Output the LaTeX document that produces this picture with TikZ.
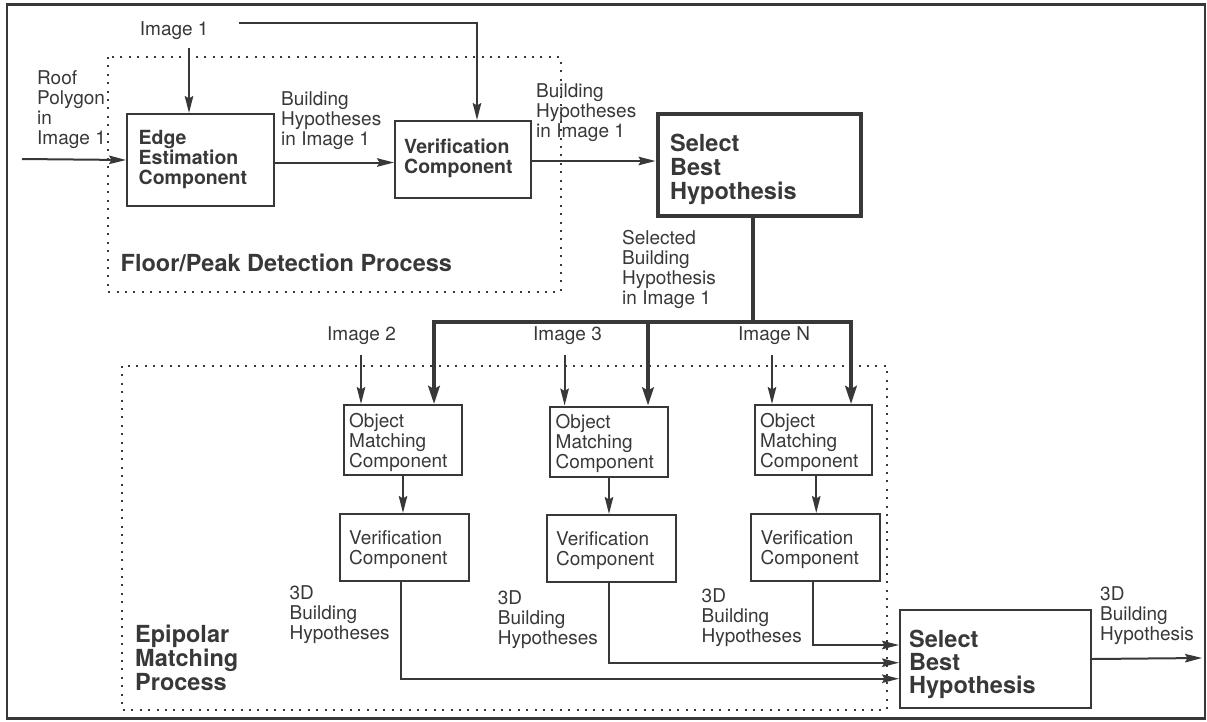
\documentclass[tikz,border=0pt]{standalone}
\usepackage{fontspec}
\setmainfont{TeX Gyre Heros}
\usetikzlibrary{arrows.meta}
\definecolor{ink}{gray}{0.22}
\tikzset{
  dims/.style 2 args={minimum width=#1pt, minimum height=#2pt},
  box/.style={draw=ink, line width=2pt, inner sep=0pt, anchor=north west},
  heavybox/.style={box, line width=4.2pt},
  txt/.style={inner sep=0pt, anchor=north west, align=left, text=ink,
    font=\fontsize{19}{20}\selectfont},
  btxt/.style={txt, font=\fontsize{19.5}{20}\selectfont\bfseries},
  bigtxt/.style={txt, font=\fontsize{23.5}{24}\selectfont\bfseries},
  arr/.style={draw=ink, line width=2pt, -{Stealth[length=17pt,width=8.5pt,inset=2.5pt]}},
  tarr/.style={draw=ink, line width=4pt, line join=miter, -{Stealth[length=18pt,width=11.5pt,inset=3pt]}},
  thickl/.style={draw=ink, line width=4pt},
  dotbox/.style={draw=ink, line width=2pt, dash pattern=on 2pt off 6.4pt},
  frame/.style={draw=ink, line width=2.2pt}
}
\begin{document}
\begin{tikzpicture}[x=1pt,y=-1pt]
\useasboundingbox (0,0) rectangle (1207,721);

% outer frame and the two process regions
\draw[frame] (7,4.5) rectangle (1205,718.5);
\draw[dotbox] (108,57) rectangle (560.6,292);
\draw[dotbox] (122,366) rectangle (887,709.5);

% ---------- floor/peak detection ----------
\node[box, dims={147}{92}] (edge) at (126,113) {};
\node[btxt] (edge-t) at (138.5,129.8) {Edge\\Estimation\\Component};
\node[box, dims={136}{77}] (verif) at (394,120) {};
\node[btxt] (verif-t) at (404,138.3) {Verification\\Component};
\node[heavybox, dims={203}{102}] (sel1) at (655.5,112) {};
\node[bigtxt] (sel1-t) at (670,133.6) {Select\\Best\\Hypothesis};

\node[txt] (roof) at (37,70.5) {Roof\\Polygon\\in\\Image 1};
\node[txt] (img1) at (139.7,21.3) {Image 1};
\node[txt] (bh1) at (281,91.7) {Building\\Hypotheses\\in Image 1};
\node[txt] (bh2) at (536,83) {Building\\Hypotheses\\in Image 1};
\node[bigtxt] (floor) at (120.5,254) {Floor/Peak Detection Process};
\node[txt] (selhyp) at (622,230.3) {Selected\\Building\\Hypothesis\\in Image 1};

\coordinate (roofin) at (22,159);
\draw[arr] (roofin) -- (edge.west);
\coordinate (img1a) at (189,48);
\draw[arr] (img1a) -- (img1a |- edge.north);
\coordinate (img1b) at (239,22.5);
\coordinate (img1c) at (477,22.5);
\draw[arr] (img1b) -- (img1c) -- (img1c |- verif.north);
\coordinate (ev) at ([yshift=-2.5pt]edge.east);
\draw[arr] (ev) -- (ev -| verif.west);
\coordinate (vs) at ([yshift=-1.5pt]verif.east);
\draw[arr] (vs) -- (vs -| sel1.west);

% ---------- distribution to the other images ----------
\coordinate (trunk) at ([xshift=-6pt]sel1.south);
\coordinate (busL) at (434,321.7);
\coordinate (busM) at (648,321.7);
\coordinate (busR) at (851,321.7);

% ---------- epipolar matching ----------
\node[box, dims={118}{70}] (ob1) at (343,404) {};
\node[box, dims={118}{70}] (ob2) at (549,405.5) {};
\node[box, dims={117.5}{70}] (ob3) at (753.5,404) {};
\node[txt] (ob1-t) at (349,413) {Object\\Matching\\Component};
\node[txt] (ob2-t) at (555.5,414) {Object\\Matching\\Component};
\node[txt] (ob3-t) at (760,413) {Object\\Matching\\Component};

\node[box, dims={129.5}{66.5}] (vb1) at (338.5,513) {};
\node[box, dims={129.5}{66.5}] (vb2) at (545.5,514) {};
\node[box, dims={128.5}{66.5}] (vb3) at (750,513) {};
\node[txt] (vb1-t) at (349,530) {Verification\\Component};
\node[txt] (vb2-t) at (556,531) {Verification\\Component};
\node[txt] (vb3-t) at (760.4,530) {Verification\\Component};

\node[txt] (img2) at (327,326.3) {Image 2};
\node[txt] (img3) at (533,326.3) {Image 3};
\node[txt] (imgN) at (738,326.3) {Image N};

\node[txt] (h3d1) at (289.4,585) {3D\\Building\\Hypotheses};
\node[txt] (h3d2) at (497.7,590) {3D\\Building\\Hypotheses};
\node[txt] (h3d3) at (701.5,588) {3D\\Building\\Hypotheses};
\node[bigtxt] (epi) at (135,625) {Epipolar\\Matching\\Process};

\node[box, dims={191}{98}] (sel2) at (899,609) {};
\node[bigtxt, font=\fontsize{23.5}{23}\selectfont\bfseries] (sel2-t) at (909,630.3) {Select\\Best\\Hypothesis};
\node[txt] (out3d) at (1100,586) {3D\\Building\\Hypothesis};

% thick distribution bus
\draw[thickl] (trunk) -- (trunk |- busL);
\draw[tarr] (trunk |- busL) -- (busL) -- (busL |- ob1.north);
\draw[tarr] (trunk |- busL) -- (busR) -- (busR |- ob3.north);
\draw[tarr] (busM) -- (busM |- ob2.north);

% image inputs
\coordinate (img2a) at (361,355);
\coordinate (img3a) at (564.6,355);
\coordinate (imgNa) at (772,355);
\draw[arr] (img2a) -- (img2a |- ob1.north);
\draw[arr] (img3a) -- (img3a |- ob2.north);
\draw[arr] (imgNa) -- (imgNa |- ob3.north);

% matching -> verification
\draw[arr] (ob1.south) -- (ob1.south |- vb1.north);
\draw[arr] (ob2.south) -- (ob2.south |- vb2.north);
\coordinate (ob3s) at ([xshift=3pt]ob3.south);
\draw[arr] (ob3s) -- (ob3s |- vb3.north);

% verification -> final selection
\coordinate (o1) at ([xshift=-3pt]vb1.south);
\coordinate (o2) at ([xshift=-2.5pt]vb2.south);
\coordinate (o3) at ([xshift=-2pt]vb3.south);
\draw[arr] (o1) |- ([yshift=-19.7pt]sel2.west);
\draw[arr] (o2) |- ([yshift=-3.7pt]sel2.west);
\draw[arr] (o3) |- ([yshift=14pt]sel2.west);

\coordinate (outend) at (1202,658);
\draw[arr] (sel2.east) -- (outend);
\end{tikzpicture}
\end{document}
